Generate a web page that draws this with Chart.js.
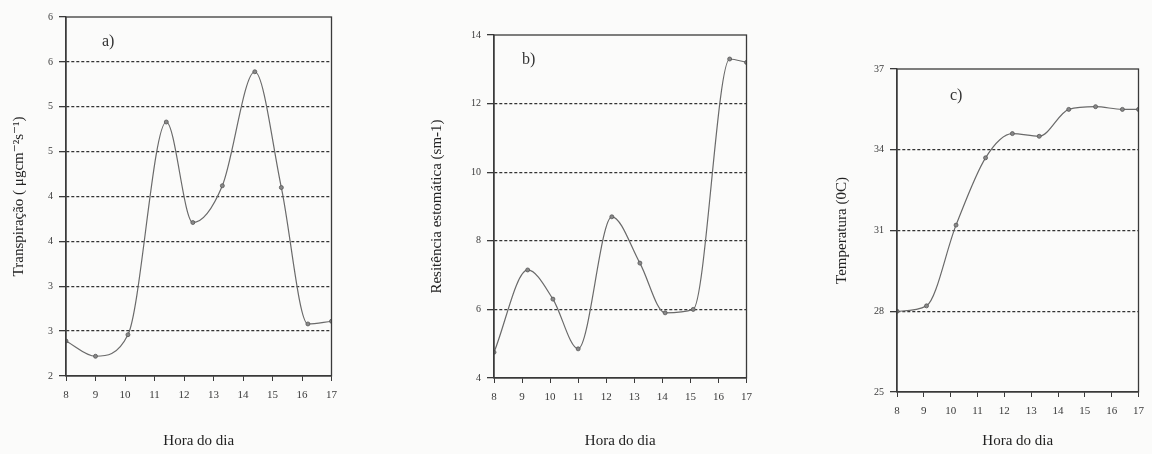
<!DOCTYPE html>
<html>
<head>
<meta charset="utf-8">
<script src="https://cdn.jsdelivr.net/npm/chart.js@4.4.1/dist/chart.umd.min.js"></script>
<style>
  body { margin: 0; background: #fbfbfa; width: 1152px; height: 454px; overflow: hidden; position: relative; }
  canvas { position: absolute; }
  .tag { position: absolute; font-family: "Liberation Serif", serif; font-size: 16px; color: #333; }
</style>
</head>
<body>
<canvas id="chartA" style="left:10px;top:0px;width:335px;height:454px"></canvas>
<canvas id="chartB" style="left:428px;top:0px;width:332px;height:454px"></canvas>
<canvas id="chartC" style="left:833px;top:0px;width:319px;height:454px"></canvas>
<div class="tag" style="left:102px;top:32px">a)</div>
<div class="tag" style="left:522px;top:50px">b)</div>
<div class="tag" style="left:950px;top:86px">c)</div>
<script>
// hora do dia (x) e valores
const horasA = [8, 9, 10.1, 11.4, 12.3, 13.3, 14.4, 15.3, 16.2, 17];
const transpiracao = [2.39, 2.22, 2.46, 4.83, 3.71, 4.12, 5.39, 4.1, 2.58, 2.61];

const horasB = [8, 9.2, 10.1, 11, 12.2, 13.2, 14.1, 15.1, 16.4, 17];
const resistencia = [4.75, 7.15, 6.3, 4.85, 8.7, 7.35, 5.9, 6.0, 13.3, 13.2];

const horasC = [8, 9.1, 10.2, 11.3, 12.3, 13.3, 14.4, 15.4, 16.4, 17];
const temperatura = [28.0, 28.2, 31.2, 33.7, 34.6, 34.5, 35.5, 35.6, 35.5, 35.5];

const serif = "'Liberation Serif', 'DejaVu Serif', serif";
const ink = '#3a3a3a';

// draws the full box round the plot area
const boxPlugin = {
  id: 'box',
  afterDraw(chart) {
    const a = chart.chartArea, c = chart.ctx;
    c.save();
    c.strokeStyle = ink;
    c.lineWidth = 1.3;
    c.setLineDash([]);
    c.strokeRect(a.left, a.top, a.right - a.left, a.bottom - a.top);
    c.restore();
  }
};

function makeChart(id, xs, ys, opt) {
  const pts = xs.map((x, i) => ({ x: x, y: ys[i] }));
  return new Chart(document.getElementById(id), {
    type: 'line',
    data: { datasets: [{
      data: pts,
      borderColor: '#6a6a6a',
      borderWidth: 1.2,
      pointRadius: 2,
      pointBackgroundColor: '#888',
      pointBorderColor: '#555',
      pointBorderWidth: 0.8,
      cubicInterpolationMode: 'monotone',
      fill: false
    }]},
    options: {
      responsive: false,
      animation: false,
      layout: { padding: { top: opt.top, right: opt.right } },
      plugins: { legend: { display: false }, tooltip: { enabled: false } },
      scales: {
        x: {
          type: 'linear', min: 8, max: 17,
          ticks: { stepSize: 1, color: ink, font: { family: serif, size: 11 }, padding: 8 },
          grid: { drawOnChartArea: false, tickLength: 5, color: ink },
          border: { color: ink, width: 1.3 },
          title: { display: true, text: 'Hora do dia', color: '#222', font: { family: serif, size: 15 }, padding: { top: 12 } },
          afterFit(s) { s.height = opt.xh; }
        },
        y: {
          min: opt.min, max: opt.max,
          ticks: {
            stepSize: opt.step, color: ink, font: { family: serif, size: 10 }, padding: 6,
            callback: opt.label
          },
          grid: {
            color: ctx => (ctx.tick && (ctx.tick.value === opt.min || ctx.tick.value === opt.max)) ? 'rgba(0,0,0,0)' : '#333',
            lineWidth: 1.3,
            tickLength: 7,
            tickColor: ink,
            tickBorderDash: []
          },
          border: { color: ink, width: 1.3, dash: [3, 2] },
          title: { display: true, text: opt.title, color: '#222', font: { family: serif, size: 15 }, padding: 0 },
          afterFit(s) { s.width = opt.yw; }
        }
      }
    },
    plugins: [boxPlugin]
  });
}

function setSize(id, w, h) {
  const cv = document.getElementById(id);
  cv.width = w; cv.height = h;
}
setSize('chartA', 335, 454);
setSize('chartB', 332, 454);
setSize('chartC', 319, 454);

makeChart('chartA', horasA, transpiracao, {
  min: 2, max: 6, step: 0.5, top: 17, right: 9, xh: 78, yw: 56,
  title: 'Transpiração ( μgcm⁻²s⁻¹)',
  label: v => String(Math.round(v))
});
makeChart('chartB', horasB, resistencia, {
  min: 4, max: 14, step: 2, top: 35, right: 10, xh: 76, yw: 66,
  title: 'Resitência estomática (sm-1)',
  label: v => String(v)
});
makeChart('chartC', horasC, temperatura, {
  min: 25, max: 37, step: 3, top: 69, right: 2, xh: 62, yw: 64,
  title: 'Temperatura (0C)',
  label: v => String(v)
});
</script>
</body>
</html>
